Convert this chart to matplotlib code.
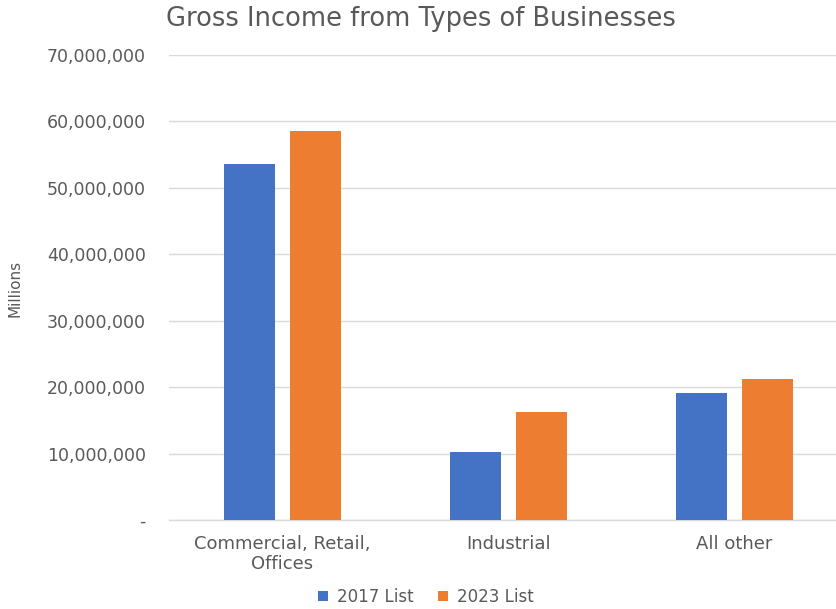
import matplotlib
matplotlib.use("Agg")
import matplotlib.pyplot as plt
import numpy as np
from matplotlib.ticker import FuncFormatter, MultipleLocator

categories = ["Commercial, Retail,\nOffices", "Industrial", "All other"]
series_names = ["2017 List", "2023 List"]
values_2017 = [53600000, 10200000, 19050000]
values_2023 = [58500000, 16200000, 21200000]

plt.rcParams['font.family'] = ['DejaVu Sans']
gray = '#595959'

fig = plt.figure(figsize=(8.37, 6.09), dpi=100)
W, H = 837, 609
left, right = 169.5, 847.5
top, bottom = 55, 520
ax = fig.add_axes([left / W, 1 - bottom / H, (right - left) / W, (bottom - top) / H])

x = np.arange(len(categories))
bw = 0.2257
off = 0.144
ax.bar(x - off, values_2017, bw, color='#4472C4', label=series_names[0], zorder=3)
ax.bar(x + off, values_2023, bw, color='#ED7D31', label=series_names[1], zorder=3)

ax.set_xlim(-0.5, 2.5)
ax.set_ylim(0, 70000000)
ax.yaxis.set_major_locator(MultipleLocator(10000000))
ax.yaxis.set_major_formatter(FuncFormatter(lambda v, p: '-' if v == 0 else f'{int(v):,}'))
ax.grid(axis='y', color='#d9d9d9', linewidth=1, zorder=0)
for s in ['top', 'right', 'left']:
    ax.spines[s].set_visible(False)
ax.spines['bottom'].set_color('#d9d9d9')
ax.spines['bottom'].set_linewidth(1)
ax.tick_params(axis='both', length=0, colors=gray)
ax.tick_params(axis='y', pad=17, labelsize=12.5)
ax.tick_params(axis='x', pad=11, labelsize=13)
ax.set_xticks(x)
ax.set_xticklabels(categories, linespacing=1.1)

fig.text(15 / W, 1 - 288 / H, 'Millions', rotation=90, ha='center', va='center', color=gray, fontsize=11)
fig.text(421 / W, 1 - 19 / H, 'Gross Income from Types of Businesses', ha='center', va='center',
         color=gray, fontsize=18.5)

leg = fig.legend(loc='center', bbox_to_anchor=(426 / W, 1 - 597 / H), ncol=2, frameon=False,
                 fontsize=12, handlelength=0.6, handleheight=0.6, handletextpad=0.5, columnspacing=1.5)
for t in leg.get_texts():
    t.set_color(gray)

fig.savefig('out.png', dpi=100)
